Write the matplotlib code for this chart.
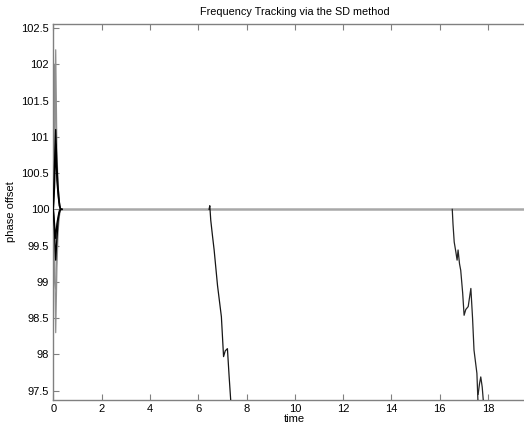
import matplotlib
matplotlib.use("Agg")
import matplotlib.pyplot as plt

plt.rcParams['font.family'] = ['Liberation Sans', 'DejaVu Sans']

# --- data ---
t_init = [0.0, 0.05, 0.1, 0.15, 0.2, 0.25, 0.3, 0.35]
init_gray = [
    [100.0, 101.0, 102.2, 100.8, 100.3, 100.1, 100.0, 100.0],
    [100.0, 102.0, 101.2, 100.5, 100.2, 100.05, 100.0, 100.0],
    [100.0, 99.5, 98.3, 99.2, 99.7, 99.9, 100.0, 100.0],
    [100.0, 99.0, 98.9, 99.5, 99.8, 99.95, 100.0, 100.0],
]
init_black = [
    [100.0, 100.6, 101.1, 100.6, 100.3, 100.1, 100.0, 100.0],
    [100.0, 100.3, 100.9, 100.4, 100.2, 100.05, 100.0, 100.0],
    [100.0, 99.7, 99.3, 99.6, 99.85, 99.95, 100.0, 100.0],
    [100.0, 99.8, 99.6, 99.8, 99.9, 99.98, 100.0, 100.0],
]
t_steady = [0.3, 20.0]
v_steady = [100.0, 100.0]

t_drop1 = [6.45, 6.48, 6.52, 6.59, 6.66, 6.80, 6.96, 7.05, 7.12, 7.21, 7.28, 7.36]
v_drop1 = [100.0, 100.05, 99.85, 99.64, 99.44, 98.95, 98.52, 97.97, 98.05, 98.08, 97.7, 97.3]

t_drop2 = [16.52, 16.55, 16.60, 16.67, 16.72, 16.76, 16.82, 16.87, 16.95, 17.01, 17.08,
           17.18, 17.29, 17.36, 17.42, 17.54, 17.59]
v_drop2 = [100.0, 99.8, 99.55, 99.41, 99.30, 99.44, 99.25, 99.16, 98.85, 98.54, 98.62,
           98.66, 98.91, 98.5, 98.06, 97.74, 97.3]
t_drop3 = [17.59, 17.65, 17.70, 17.76, 17.82]
v_drop3 = [97.45, 97.6, 97.69, 97.55, 97.3]

xticks = [0, 2, 4, 6, 8, 10, 12, 14, 16, 18]
yticks = [97.5, 98, 98.5, 99, 99.5, 100, 100.5, 101, 101.5, 102, 102.5]
ytick_labels = ['97.5', '98', '98.5', '99', '99.5', '100', '100.5', '101', '101.5', '102', '102.5']

fig = plt.figure(figsize=(5.24, 4.29), dpi=100)
ax = fig.add_axes([0.1017, 0.0676, 0.9218, 0.8776])

ax.plot(t_steady, v_steady, color='#a8a8a8', lw=1.8, zorder=1)
for v in init_gray:
    ax.plot(t_init, v, color='#909090', lw=0.9, zorder=2)
for v in init_black:
    ax.plot(t_init, v, color='black', lw=1.0, zorder=3)
ax.plot(t_drop1, v_drop1, color='#151515', lw=0.9, zorder=3)
ax.plot(t_drop2, v_drop2, color='#252525', lw=0.9, zorder=3)
ax.plot(t_drop3, v_drop3, color='#252525', lw=0.9, zorder=3)

ax.set_xlim(0, 20)
ax.set_ylim(97.372, 102.562)
ax.set_xticks(xticks)
ax.set_xticklabels([str(x) for x in xticks])
ax.set_yticks(yticks)
ax.set_yticklabels(ytick_labels)

for s in ax.spines.values():
    s.set_color('#808080')
    s.set_linewidth(1.0)
ax.tick_params(direction='in', length=4, width=0.8, color='#808080',
               labelsize=8, top=True, right=True, pad=3)

ax.set_title('Frequency Tracking via the SD method', fontsize=7.8, pad=6)
ax.set_xlabel('time', fontsize=8, labelpad=0)
ax.set_ylabel('phase offset', fontsize=8, labelpad=4)

fig.savefig('out.png', dpi=100)
